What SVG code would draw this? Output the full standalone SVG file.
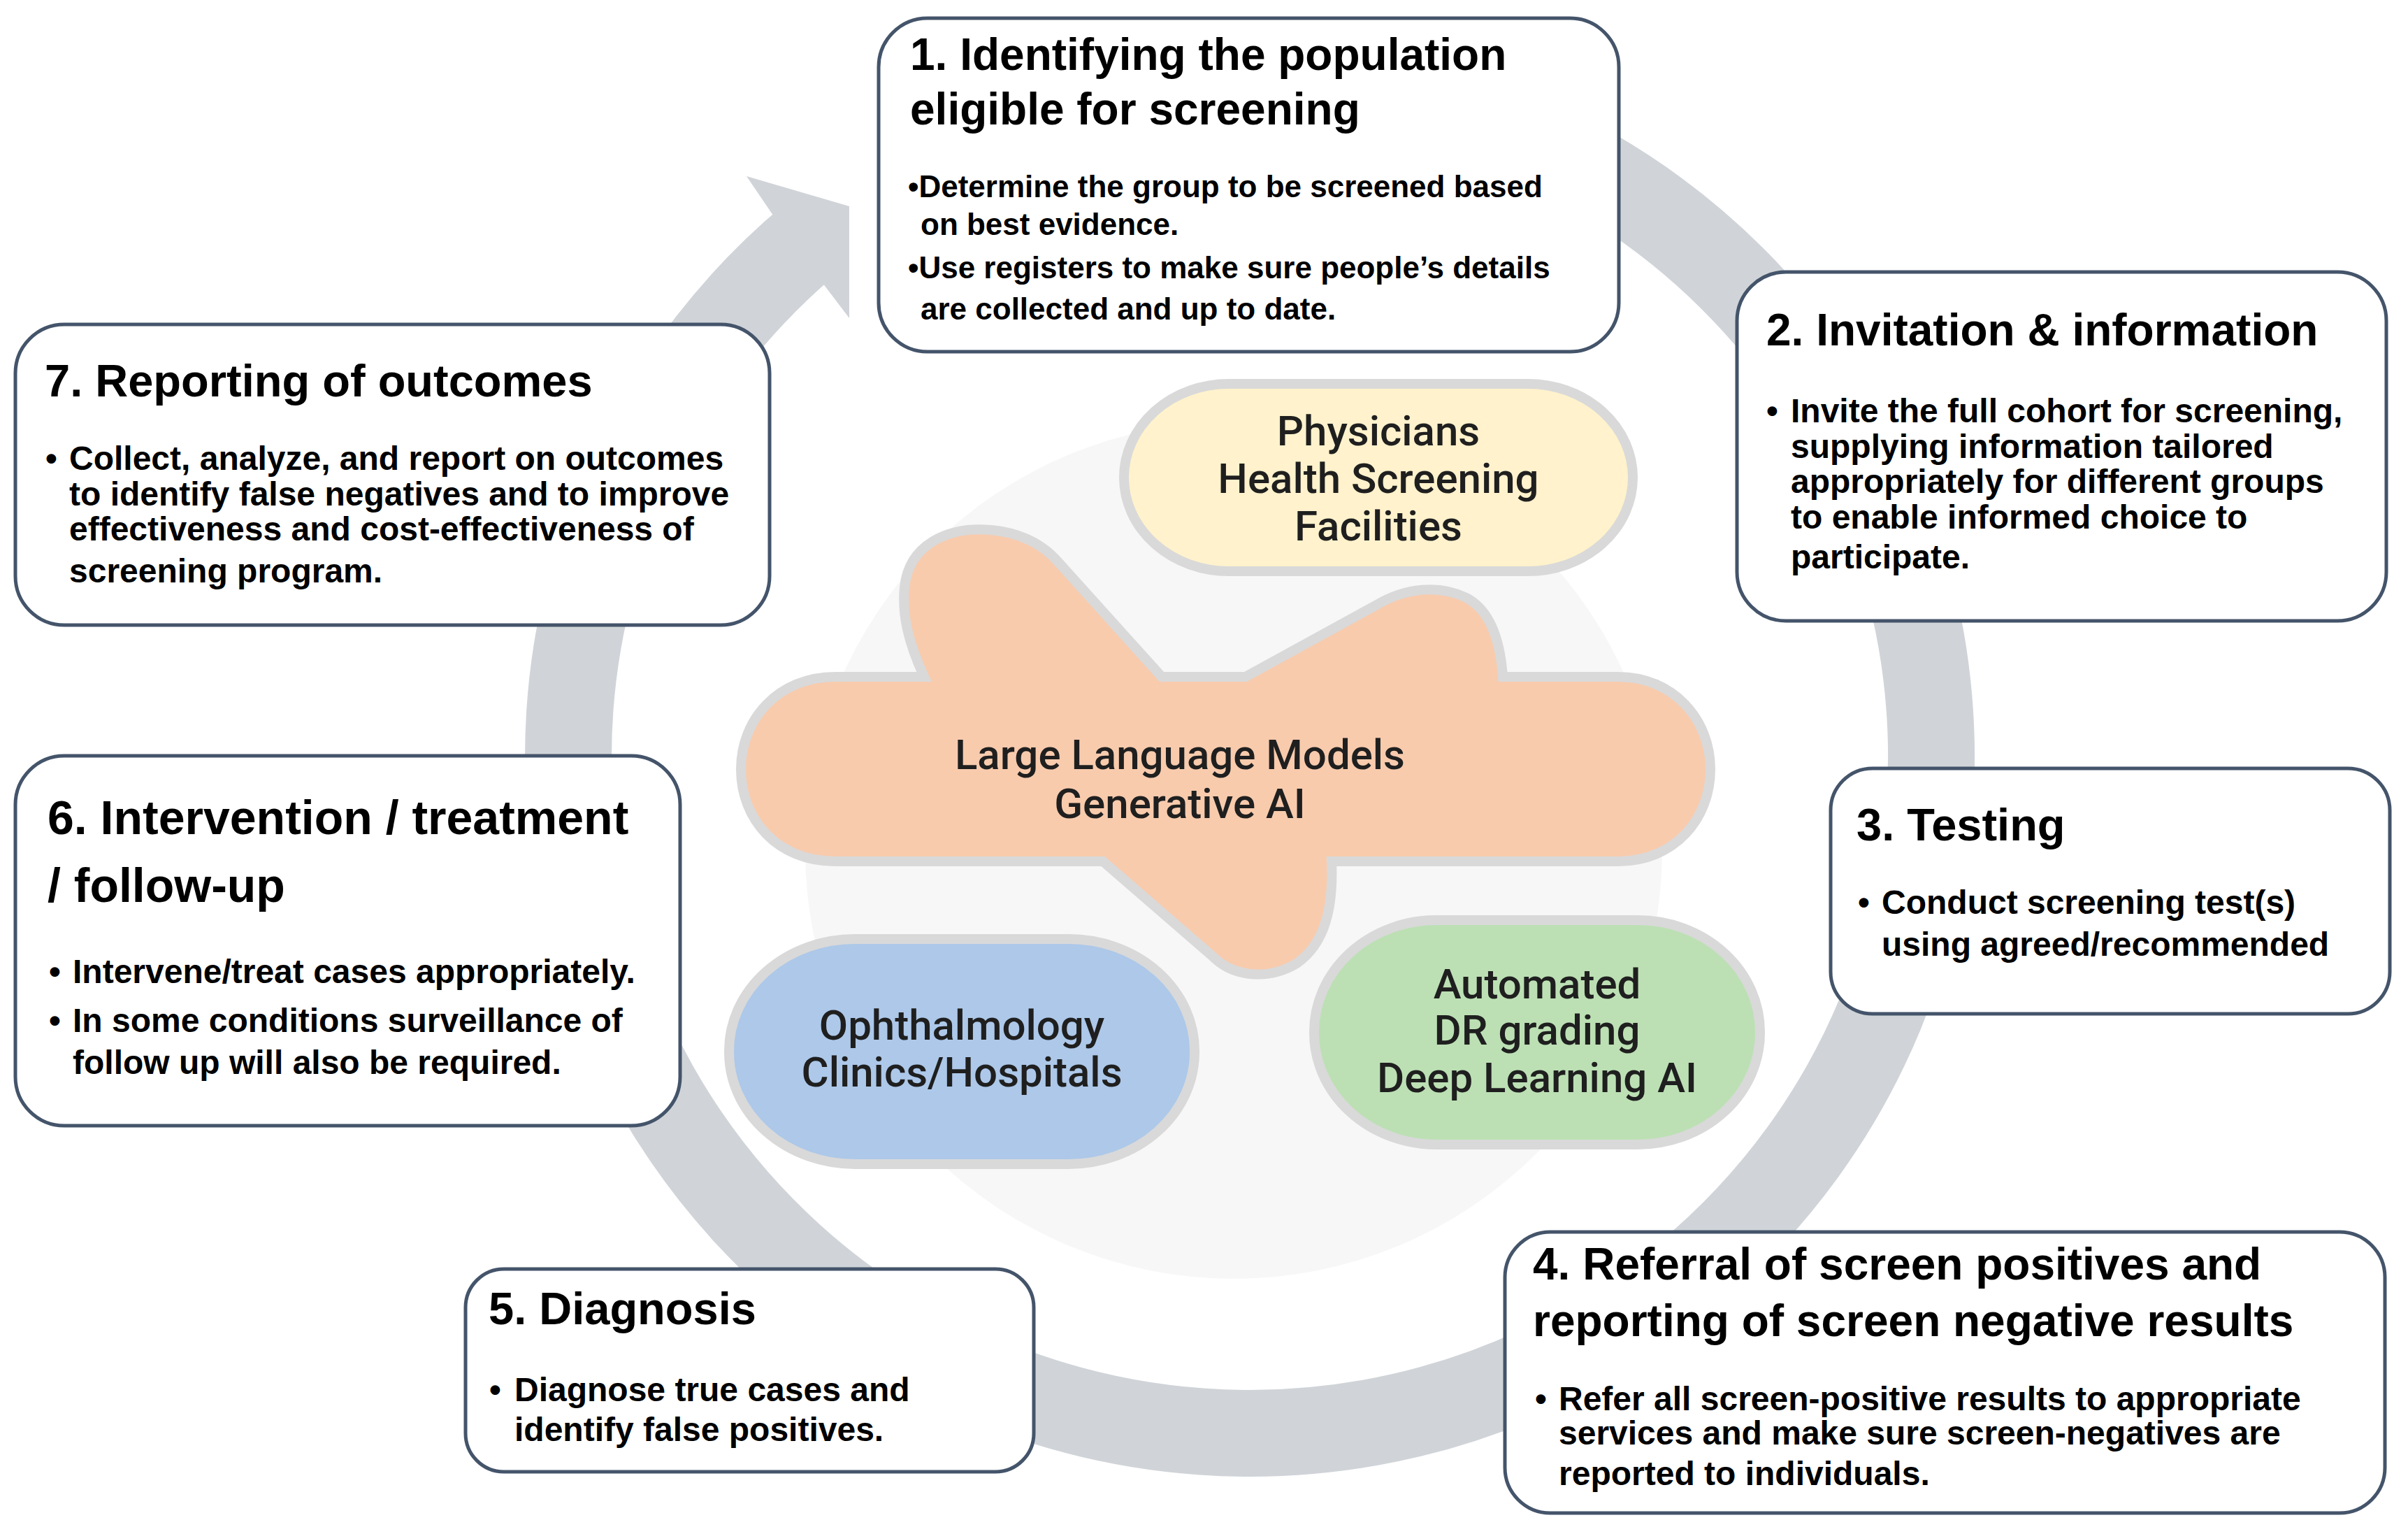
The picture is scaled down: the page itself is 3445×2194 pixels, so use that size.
<svg xmlns="http://www.w3.org/2000/svg" width="3445" height="2194" viewBox="0 0 3445 2194">
<style>
.box{fill:#fff;stroke:#44546a;stroke-width:5}
.t{font-family:"Liberation Sans",Arial,sans-serif;font-weight:bold;font-size:64px;fill:#000}
.b{font-family:"Liberation Sans",Arial,sans-serif;font-weight:bold;font-size:48px;fill:#000}
.b1{font-size:44px}
.pill{stroke:#d9d9d9;stroke-width:14}
.pt{font-family:Roboto,"Noto Sans",sans-serif;font-weight:500;font-size:60px;fill:#1f1f1f;text-anchor:middle}
</style>
<rect width="3445" height="2194" fill="#fff"/>
<circle id="hub" cx="1765" cy="1216" r="613" fill="#f7f7f7"/>
<g id="connectors">
<path d="M 1618.7,128.7 A 975 968 0 1 1 1161.3,340.5" fill="none" stroke="#d0d4d8" stroke-width="124"/>
<polygon points="1104,305 1068,252 1215,295 1215,455 1177,405" fill="#d0d4d8"/>
</g>
<g id="node1">
<rect class="box" x="1257" y="26" width="1059" height="477" rx="70"/>
<text class="t" x="1302" y="100">1. Identifying the population</text>
<text class="t" x="1302" y="178">eligible for screening</text>
<text class="b b1" x="1299" y="282">•Determine the group to be screened based</text>
<text class="b b1" x="1317" y="336">on best evidence.</text>
<text class="b b1" x="1299" y="398">•Use registers to make sure people’s details</text>
<text class="b b1" x="1317" y="457">are collected and up to date.</text>
</g>
<g id="node2">
<rect class="box" x="2485" y="389" width="929" height="499" rx="70"/>
<text class="t" x="2527" y="494">2. Invitation &amp; information</text>
<text class="b" x="2527" y="604">•</text>
<text class="b" x="2562" y="604">Invite the full cohort for screening,</text>
<text class="b" x="2562" y="655">supplying information tailored</text>
<text class="b" x="2562" y="705">appropriately for different groups</text>
<text class="b" x="2562" y="756">to enable informed choice to</text>
<text class="b" x="2562" y="813">participate.</text>
</g>
<g id="node3">
<rect class="box" x="2619" y="1099" width="800" height="351" rx="60"/>
<text class="t" x="2656" y="1202" style="font-size:65px">3. Testing</text>
<text class="b" x="2658" y="1307">•</text>
<text class="b" x="2692" y="1307">Conduct screening test(s)</text>
<text class="b" x="2692" y="1367">using agreed/recommended</text>
</g>
<g id="node4">
<rect class="box" x="2153" y="1762" width="1259" height="402" rx="65"/>
<text class="t" x="2193" y="1830">4. Referral of screen positives and</text>
<text class="t" x="2193" y="1911">reporting of screen negative results</text>
<text class="b" x="2196" y="2017">•</text>
<text class="b" x="2230" y="2017">Refer all screen-positive results to appropriate</text>
<text class="b" x="2230" y="2066">services and make sure screen-negatives are</text>
<text class="b" x="2230" y="2124">reported to individuals.</text>
</g>
<g id="node5">
<rect class="box" x="666" y="1815" width="813" height="290" rx="55"/>
<text class="t" x="699" y="1894" style="font-size:65px">5. Diagnosis</text>
<text class="b" x="700" y="2004">•</text>
<text class="b" x="736" y="2004">Diagnose true cases and</text>
<text class="b" x="736" y="2061">identify false positives.</text>
</g>
<g id="node6">
<rect class="box" x="22" y="1081" width="951" height="529" rx="70"/>
<text class="t" x="68" y="1193" style="font-size:68px">6. Intervention / treatment</text>
<text class="t" x="68" y="1290" style="font-size:68px">/ follow-up</text>
<text class="b" x="70" y="1406">•</text>
<text class="b" x="104" y="1406">Intervene/treat cases appropriately.</text>
<text class="b" x="70" y="1476">•</text>
<text class="b" x="104" y="1476">In some conditions surveillance of</text>
<text class="b" x="104" y="1536">follow up will also be required.</text>
</g>
<g id="node7">
<rect class="box" x="22" y="464" width="1079" height="430" rx="70"/>
<text class="t" x="64" y="567" style="font-size:65px">7. Reporting of outcomes</text>
<text class="b" x="65" y="672">•</text>
<text class="b" x="99" y="672">Collect, analyze, and report on outcomes</text>
<text class="b" x="99" y="723">to identify false negatives and to improve</text>
<text class="b" x="99" y="773">effectiveness and cost-effectiveness of</text>
<text class="b" x="99" y="833">screening program.</text>
</g>
<g id="physicians">
<rect class="pill" x="1608" y="549" width="728" height="268" rx="150" ry="134" fill="#fff2cc"/>
<text class="pt" x="1972" y="637">Physicians</text>
<text class="pt" x="1972" y="705">Health Screening</text>
<text class="pt" x="1972" y="773">Facilities</text>
</g>
<g id="llm">
<path class="pill" fill="#f8cbad" d="M 1195,968 L 1322,968 C 1300,920 1290,880 1294,840 C 1300,780 1355,752 1418,758 C 1460,762 1492,778 1515,805 L 1662,968 L 1782,968 L 1968,866 C 2010,840 2060,836 2098,855 C 2130,872 2146,910 2150,968 L 2315,968 C 2395,968 2447,1030 2447,1100 C 2447,1172 2395,1232 2315,1232 L 1905,1232 C 1908,1300 1895,1350 1855,1378 C 1815,1402 1765,1398 1735,1368 L 1578,1232 L 1195,1232 C 1112,1232 1060,1172 1060,1100 C 1060,1030 1112,968 1195,968 Z"/>
<text class="pt" x="1688" y="1100">Large Language Models</text>
<text class="pt" x="1688" y="1170">Generative AI</text>
</g>
<g id="ophthalmology">
<rect class="pill" x="1043" y="1343" width="666" height="322" rx="180" ry="160" fill="#adc8e9"/>
<text class="pt" x="1376" y="1487">Ophthalmology</text>
<text class="pt" x="1376" y="1554">Clinics/Hospitals</text>
</g>
<g id="automated">
<rect class="pill" x="1880" y="1316" width="638" height="321" rx="175" ry="160" fill="#bce0b4"/>
<text class="pt" x="2199" y="1428">Automated</text>
<text class="pt" x="2199" y="1494">DR grading</text>
<text class="pt" x="2199" y="1562">Deep Learning AI</text>
</g>
</svg>
